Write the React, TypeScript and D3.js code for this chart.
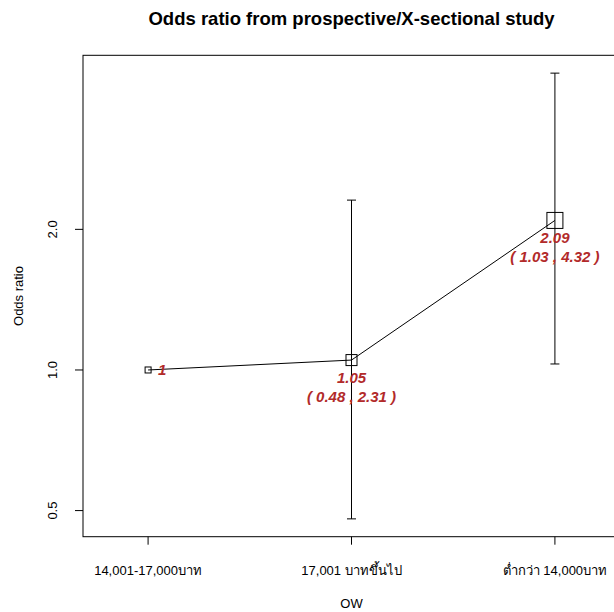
import React, { useEffect, useRef } from 'react';
import * as d3 from 'd3';

const categories = ['14,001-17,000บาท', '17,001 บาทขึ้นไป', 'ต่ำกว่า 14,000บาท'];
const oddsRatio = [1, 1.05, 2.09];
const lowerCI = [null, 0.48, 1.03];
const upperCI = [null, 2.31, 4.32];
const boxSize = [6, 11, 16]; // relative square size
const yTicks = [0.5, 1.0, 2.0];

const App = () => {
  const ref = useRef<SVGSVGElement>(null);

  useEffect(() => {
    const svg = d3.select(ref.current);
    svg.selectAll('*').remove();

    const left = 83, right = 620, top = 55.3, bottom = 536.7;
    const font = 'Liberation Sans, Arial, Helvetica, sans-serif';
    const red = '#B22A2A';

    const x = d3.scaleLinear().domain([0.68, 3.32]).range([left, right]);

    const lo = Math.log(0.48), hi = Math.log(4.32);
    const ext = (hi - lo) * 0.04;
    const y = d3.scaleLog()
      .domain([Math.exp(lo - ext), Math.exp(hi + ext)])
      .range([bottom, top]);

    // title
    svg.append('text')
      .attr('x', (left + right) / 2)
      .attr('y', 25)
      .attr('text-anchor', 'middle')
      .attr('font-family', font)
      .attr('font-weight', 'bold')
      .attr('font-size', 18.5)
      .text('Odds ratio from prospective/X-sectional study');

    // box
    svg.append('rect')
      .attr('x', left)
      .attr('y', top)
      .attr('width', right - left)
      .attr('height', bottom - top)
      .attr('fill', 'none')
      .attr('stroke', '#000')
      .attr('stroke-width', 1);

    // x axis
    const gx = svg.append('g');
    categories.forEach((c, i) => {
      gx.append('line')
        .attr('x1', x(i + 1)).attr('x2', x(i + 1))
        .attr('y1', bottom).attr('y2', bottom + 8)
        .attr('stroke', '#000');
      gx.append('text')
        .attr('x', x(i + 1))
        .attr('y', 575)
        .attr('text-anchor', 'middle')
        .attr('font-family', font)
        .attr('font-size', 13)
        .text(c);
    });
    svg.append('text')
      .attr('x', (left + right) / 2)
      .attr('y', 608)
      .attr('text-anchor', 'middle')
      .attr('font-family', font)
      .attr('font-size', 13)
      .text('OW');

    // y axis
    const gy = svg.append('g');
    yTicks.forEach(t => {
      gy.append('line')
        .attr('x1', left - 8).attr('x2', left)
        .attr('y1', y(t)).attr('y2', y(t))
        .attr('stroke', '#000');
      gy.append('text')
        .attr('transform', `translate(57,${y(t)}) rotate(-90)`)
        .attr('text-anchor', 'middle')
        .attr('font-family', font)
        .attr('font-size', 13)
        .text(t.toFixed(1));
    });
    svg.append('text')
      .attr('transform', `translate(23,${(top + bottom) / 2}) rotate(-90)`)
      .attr('text-anchor', 'middle')
      .attr('font-family', font)
      .attr('font-size', 13)
      .text('Odds ratio');

    // error bars
    oddsRatio.forEach((_, i) => {
      const l = lowerCI[i], u = upperCI[i];
      if (l == null || u == null) return;
      const cx = x(i + 1);
      const g = svg.append('g').attr('stroke', '#000').attr('stroke-width', 1);
      g.append('line').attr('x1', cx).attr('x2', cx).attr('y1', y(l)).attr('y2', y(u));
      g.append('line').attr('x1', cx - 4.5).attr('x2', cx + 4.5).attr('y1', y(l)).attr('y2', y(l));
      g.append('line').attr('x1', cx - 4.5).attr('x2', cx + 4.5).attr('y1', y(u)).attr('y2', y(u));
    });

    // connecting line
    const line = d3.line<number>()
      .x((_, i) => x(i + 1))
      .y(d => y(d));
    svg.append('path')
      .attr('d', line(oddsRatio))
      .attr('fill', 'none')
      .attr('stroke', '#000');

    // squares
    svg.append('g')
      .selectAll('rect')
      .data(oddsRatio)
      .join('rect')
      .attr('x', (d, i) => x(i + 1) - boxSize[i] / 2)
      .attr('y', (d, i) => y(d) - boxSize[i] / 2)
      .attr('width', (d, i) => boxSize[i])
      .attr('height', (d, i) => boxSize[i])
      .attr('fill', 'none')
      .attr('stroke', '#000');

    // labels
    oddsRatio.forEach((d, i) => {
      const cx = x(i + 1);
      const cy = y(d);
      const l = lowerCI[i], u = upperCI[i];
      const t = svg.append('text')
        .attr('font-family', font)
        .attr('font-weight', 'bold')
        .attr('font-style', 'italic')
        .attr('font-size', 15)
        .attr('fill', red);
      if (l == null || u == null) {
        t.attr('x', cx + 10).attr('y', cy + 5).text(String(d));
        return;
      }
      t.attr('x', cx).attr('y', cy + 23).attr('text-anchor', 'middle').text(d.toFixed(2));
      svg.append('text')
        .attr('x', cx)
        .attr('y', cy + 42)
        .attr('text-anchor', 'middle')
        .attr('font-family', font)
        .attr('font-weight', 'bold')
        .attr('font-style', 'italic')
        .attr('font-size', 15)
        .attr('fill', red)
        .text(`( ${l.toFixed(2)} , ${u.toFixed(2)} )`);
    });
  }, []);

  return (
    <div style={{ position: 'fixed', left: 0, top: 0 }}>
      <svg ref={ref} width={614} height={612} style={{ display: 'block', background: '#fff' }} />
    </div>
  );
};

export default App;
